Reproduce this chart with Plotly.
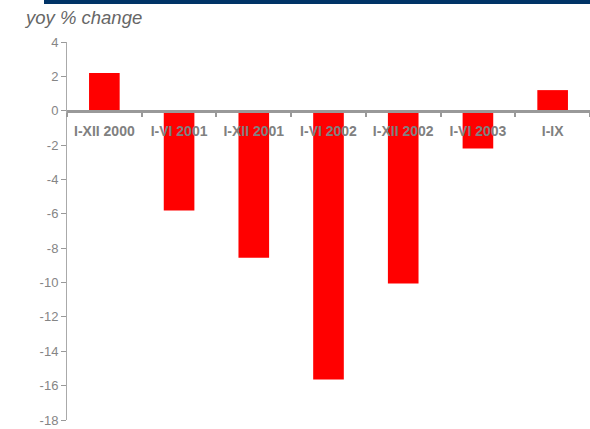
import plotly.graph_objects as go

categories = ["I-XII 2000", "I-VI 2001", "I-XII 2001", "I-VI 2002", "I-XII 2002", "I-VI 2003", "I-IX"]
values = [2.2, -5.8, -8.55, -15.65, -10.05, -2.2, 1.2]
y_ticks = [4, 2, 0, -2, -4, -6, -8, -10, -12, -14, -16, -18]

W, H = 590, 429
L, R, T, B = 67, 0, 42, 9
plot_h = H - T - B
ymin, ymax = -18, 4
zero_pos = (0 - ymin) / (ymax - ymin)

fig = go.Figure()
fig.add_trace(go.Bar(
    x=categories, y=values,
    marker=dict(color="#FF0000", line=dict(width=0)),
    width=0.41,
))

fig.update_layout(
    width=W, height=H,
    margin=dict(l=L, r=R, t=T, b=B, autoexpand=False),
    paper_bgcolor="white", plot_bgcolor="white",
    showlegend=False,
    font=dict(family="Liberation Sans, Arial", color="#808080"),
    xaxis=dict(
        type="category",
        anchor="free", position=zero_pos,
        showline=True, linecolor="#999999", linewidth=3,
        ticks="outside", tickson="boundaries", ticklen=4, tickwidth=2, tickcolor="#999999",
        tickvals=categories,
        ticktext=["<b>%s</b>" % c for c in categories],
        tickfont=dict(size=14, color="#808080", family="Liberation Sans, Arial"),
        ticklabelstandoff=6,
        showgrid=False, zeroline=False,
        range=[-0.5, 6.5],
    ),
    yaxis=dict(
        range=[ymin, ymax],
        tickvals=y_ticks,
        ticktext=[str(v) for v in y_ticks],
        showline=True, linecolor="#aaaaaa", linewidth=1,
        ticks="outside", ticklen=5, tickcolor="#999999",
        tickfont=dict(size=13, color="#858585"),
        showgrid=False, zeroline=False,
    ),
)

# title text
fig.add_annotation(
    text="<i>yoy % change</i>", xref="paper", yref="paper",
    x=(22 - L) / (W - L - R), y=(H - B - 17) / plot_h,
    xanchor="left", yanchor="middle", showarrow=False,
    font=dict(size=18.5, color="#666666", family="Liberation Sans, Arial"),
)

# top navy band
fig.add_shape(
    type="rect", xref="paper", yref="paper",
    x0=(44 - L) / (W - L - R), x1=1.01,
    y0=(H - B - 4) / plot_h, y1=(H - B + 1) / plot_h,
    fillcolor="#003366", line=dict(width=0),
)

fig.write_html("out.html", config={"displayModeBar": False},
               post_script="document.body.style.margin='0px';")
